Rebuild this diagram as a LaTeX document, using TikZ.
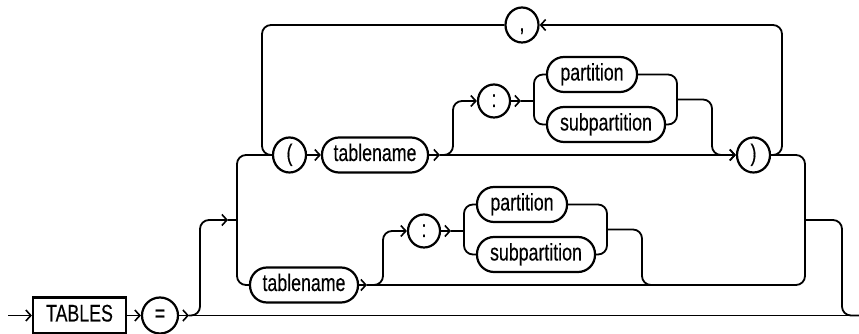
\documentclass[tikz,border=0pt]{standalone}
\usepackage{fontspec}
\setmainfont[FakeStretch=0.74,FakeBold=0.3]{Liberation Sans}
\usetikzlibrary{shapes.geometric,arrows.meta}
\tikzset{
  ln/.style={line width=1.8pt, rounded corners=9pt},
  arr/.style={-{Straight Barb[length=5pt,width=11pt,line width=1.6pt]}},
  txt/.style={font=\fontsize{24}{28}\selectfont, text height=17pt, text depth=5pt, inner sep=0pt},
  nt/.style={txt, draw, line width=2.2pt, rectangle, rounded corners=17pt, minimum height=35pt},
  term/.style={txt, draw, line width=2.2pt, ellipse, minimum width=33pt, minimum height=35pt},
  kw/.style={txt, draw, line width=2.2pt, rectangle, minimum width=93pt, minimum height=36pt}
}
\begin{document}
\begin{tikzpicture}[x=1pt,y=1pt]
\useasboundingbox (0,0) rectangle (859,334);
% nodes
\node[kw] (tables) at (79.5,18.5) {TABLES};
\node[term, minimum width=36pt, minimum height=36pt] (eq) at (160,18.5) {=};
\node[term] (lpar) at (289.5,179) {(};
\node[nt, minimum width=106pt] (tn1) at (375,179) {tablename};
\node[term] (comma) at (522,309) {,};
\node[term, minimum width=32pt, minimum height=33pt] (col1) at (494,233) {:};
\node[nt, minimum width=90pt] (p1) at (592,259.5) {partition};
\node[nt, minimum width=118pt] (s1) at (606,209.5) {subpartition};
\node[term] (rpar) at (753.5,179) {)};
\node[nt, minimum width=108pt] (tn2) at (304,49) {tablename};
\node[term, minimum width=32pt, minimum height=33pt] (col2) at (424,103) {:};
\node[nt, minimum width=90pt] (p2) at (522,129.5) {partition};
\node[nt, minimum width=118pt] (s2) at (536,79.5) {subpartition};
% coordinates
\coordinate (start) at (8,18.5);
\coordinate (fin) at (859,18.5);
\coordinate (a1) at (189,18.5);
\coordinate (a2) at (228,114);
\coordinate (j1) at (237,114);
\coordinate (a3) at (440,179);
\coordinate (a4) at (521,233);
\coordinate (c1) at (534,233);
\coordinate (r1) at (677,234.5);
\coordinate (a5) at (367,49);
\coordinate (a6) at (451,103);
\coordinate (c2) at (464,103);
\coordinate (r2) at (607,104.5);
\coordinate (j2) at (805,114);
\coordinate (m2) at (660,49);
% main line
\draw[ln,arr] (start) -- (tables.west);
\draw[ln,arr] (tables.east) -- (eq.west);
\draw[ln,arr] (eq.east) -- (a1);
\draw[ln] (a1) -- (fin);
% up branch
\draw[ln,arr] (a1) -| (200,114) -- (a2);
\draw[ln] (a2) -- (j1);
\draw[ln] (lpar.west) -| (j1) |- (tn2.west);
% upper row
\draw[ln,arr] (lpar.east) -- (tn1.west);
\draw[ln,arr] (tn1.east) -- (a3);
\draw[ln,arr] (a3) -- (rpar.west);
\draw[ln,arr] (a3) -| (453,233) -- (col1.west);
\draw[ln,arr] (col1.east) -- (a4);
\draw[ln] (a4) -- (c1);
\draw[ln] (p1.west) -| (c1) |- (s1.west);
\draw[ln] (p1.east) -| (r1) |- (s1.east);
\draw[ln,arr] (r1) -| (712,179) -- (rpar.west);
% loop
\draw[ln,arr] (rpar.east) -| (782,309) -- (comma.east);
\draw[ln] (comma.west) -| (262,179) -- (lpar.west);
% lower row
\draw[ln,arr] (tn2.east) -- (a5);
\draw[ln] (a5) -| (j2);
\draw[ln,arr] (a5) -| (383,103) -- (col2.west);
\draw[ln,arr] (col2.east) -- (a6);
\draw[ln] (a6) -- (c2);
\draw[ln] (p2.west) -| (c2) |- (s2.west);
\draw[ln] (p2.east) -| (r2) |- (s2.east);
\draw[ln] (r2) -| (642,49) -- (m2);
% exit
\draw[ln] (rpar.east) -| (j2);
\draw[ln] (j2) -| (842,18.5) -- (fin);
\end{tikzpicture}
\end{document}
